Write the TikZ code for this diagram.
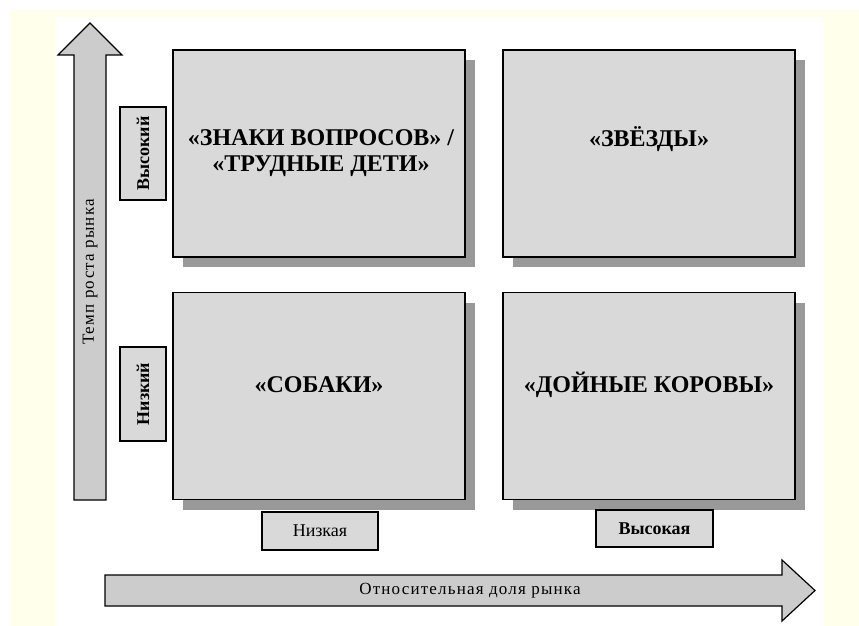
\documentclass[tikz,border=0pt]{standalone}
\usepackage{fontspec}
\setmainfont{Liberation Serif}
\newfontfamily\spacedfont[LetterSpace=7]{Liberation Serif}
\usepackage{tikz}
\usetikzlibrary{shadows}
\definecolor{bgyellow}{RGB}{255,255,236}
\definecolor{boxgray}{RGB}{217,217,217}
\definecolor{arrowgray}{RGB}{204,204,204}
\definecolor{shadowgray}{RGB}{153,153,153}
\tikzstyle{quad}=[draw=black, line width=1.3pt, fill=boxgray, minimum width=292, minimum height=207, drop shadow={shadow xshift=10pt, shadow yshift=-10pt, fill=shadowgray, opacity=1}]
\tikzstyle{quadtext}=[align=center, font=\fontsize{24}{26}\selectfont\bfseries]
\tikzstyle{level}=[draw=black, line width=1.2pt, fill=boxgray, inner sep=0pt, font=\fontsize{18}{20}\selectfont\bfseries]
\tikzstyle{axis}=[draw=black, line width=1.2pt, fill=arrowgray]

\begin{document}
\begin{tikzpicture}[x=1pt, y=-1pt]
		   \useasboundingbox (0,0) rectangle (859,626);
		   \fill[bgyellow] (10,10) rectangle (859,626);
		   \fill[white] (55,17) rectangle (823,626);
		   \begin{scope}
			   % axes
			   \draw[axis] (74,500) -- (74,55) -- (58,55) -- (90,23) -- (122,55) -- (106,55) -- (106,500) -- cycle;
			   \draw[axis] (105,575) -- (782,575) -- (782,560) -- (815,590.5) -- (782,621) -- (782,606) -- (105,606) -- cycle;
			   \node (growth) at (90,272) [rotate=90, font=\fontsize{17}{19}\spacedfont] {Темп роста рынка};
			   \node (share) at (470,590.5) [font=\fontsize{17}{19}\spacedfont] {Относительная доля рынка};
		   \end{scope}
		   \begin{scope}
			   % quadrants
			   \node (questions) at (319,153.5) [quad] {};
			   \node (stars) at (649,153.5) [quad] {};
			   \node (dogs) at (319,396) [quad] {};
			   \node (cows) at (649,396) [quad] {};
			   \node (questionstext) at ([xshift=2pt]questions.center) [quadtext] {«ЗНАКИ ВОПРОСОВ» /\\«ТРУДНЫЕ ДЕТИ»};
			   \node (starstext) at ([yshift=14pt]stars.center) [quadtext] {«ЗВЁЗДЫ»};
			   \node (dogstext) at ([yshift=11pt]dogs.center) [quadtext] {«СОБАКИ»};
			   \node (cowstext) at ([yshift=11pt]cows.center) [quadtext] {«ДОЙНЫЕ КОРОВЫ»};
		   \end{scope}
		   \begin{scope}
			   % levels
			   \node (high) at (143,153.5) [level, rotate=90, minimum width=93, minimum height=46] {Высокий};
			   \node (low) at (143,394) [level, rotate=90, minimum width=94, minimum height=46] {Низкий};
			   \node (lowshare) at (320,531) [level, minimum width=116, minimum height=38, font=\fontsize{18}{20}\selectfont] {Низкая};
			   \node (highshare) at (654.5,528.5) [level, minimum width=117, minimum height=37] {Высокая};
		   \end{scope}
	   \end{tikzpicture}
\end{document}
